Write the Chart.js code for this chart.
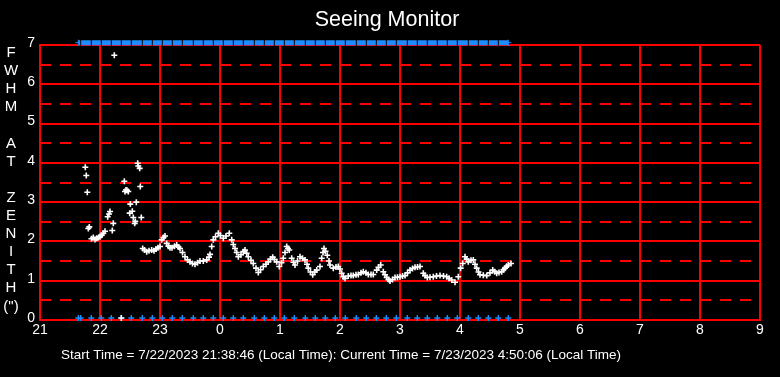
<!DOCTYPE html>
<html><head><meta charset="utf-8">
<script src="https://cdn.jsdelivr.net/npm/chart.js@4/dist/chart.umd.min.js"></script>
<style>html,body{margin:0;padding:0;background:#000;overflow:hidden}canvas{display:block}</style>
</head><body>
<canvas id="c" width="780" height="377"></canvas>
<script>
// ---- chart text ----
const chartTitle = 'Seeing Monitor';
const yAxisLetters = ['F','W','H','M','','A','T','','Z','E','N','I','T','H','(")'];
const footerText = 'Start Time = 7/22/2023 21:38:46 (Local Time): Current Time = 7/23/2023 4:50:06 (Local Time)';
// x axis: minutes after 21:00 local time, one tick per hour
const hourTicks = ['21','22','23','0','1','2','3','4','5','6','7','8','9'];
const halfGridLevels = [0.5,1.5,2.5,3.5,4.5,5.5,6.5];

// ---- FWHM samples (minutes after 21:00, arcsec) ----
const fwhmMinutes = [
 45.3,46.3,47.3,48.3,49.3,51.5,53.3,55.0,56.7,58.5,60.0,61.7,63.3,65.0,67.7,69.0,70.0,72.3,73.3,74.3,
 81.3,84.3,85.0,86.0,87.0,88.3,89.7,90.3,92.3,93.3,94.7,95.3,96.3,97.7,98.3,99.7,100.3,101.3,
 102.7,104.5,106.7,109,111.7,114,116,118,120,121.7,123.5,125,126.7,128.5,130,132,134.5,136.7,138.5,140,
 142.5,145,147.5,150,152.5,155,157.5,160,163.3,166.7,169,170,171.7,173.3,175.5,178.3,180.5,183.3,186,189.3,
 191.7,193.3,195,196.7,198.3,201,203.3,205,206.7,208.3,211,213.3,216,218.3,220.5,223.3,226,228.3,230.5,232.7,
 234.5,236.7,239.3,241.5,243.3,245,246.7,248,249.3,251.7,253.5,255,257.5,260,262.5,265,267,268.3,270.5,272.7,
 274.7,276.7,280,281.7,283,284,285.5,287.3,289,290,293.3,296,298.3,300,301.7,303.3,305,308.3,311,313.3,
 316,318.3,321,323.3,326,328.3,331,333.3,336.7,338.5,340.7,343.3,345,346.7,348.5,350,352.5,355,357.5,360,
 362.5,365,367.5,370,372.5,375,377.5,380,383.3,385,387.3,390,393.3,396.5,400,403.5,406.7,409,411.7,415,
 418.3,420.7,422.7,425,426.7,428.3,431,433.3,435,436.7,438.5,440,443.3,446.7,450,452.7,454.7,456.7,459,461.7,
 463.5,465,466.7,468.3,471
];
const fwhmValues = [
 3.89,3.68,3.25,2.33,2.37,2.07,2.10,2.05,2.08,2.10,2.12,2.16,2.21,2.26,2.63,2.70,2.76,2.28,2.46,6.74,
 0.05,3.53,3.27,3.31,3.30,3.27,2.72,2.95,2.77,2.61,2.46,2.51,3.00,3.99,3.92,3.86,3.40,2.61,
 1.82,1.78,1.74,1.76,1.78,1.76,1.81,1.84,1.87,2.04,2.10,2.14,1.95,1.88,1.84,1.84,1.88,1.91,1.86,1.82,
 1.72,1.61,1.53,1.48,1.44,1.42,1.46,1.50,1.50,1.53,1.60,1.67,1.87,2.04,2.12,2.21,2.15,2.08,2.14,2.21,
 2.04,1.92,1.82,1.72,1.61,1.66,1.74,1.78,1.70,1.61,1.52,1.44,1.32,1.21,1.28,1.36,1.42,1.48,1.55,1.60,
 1.54,1.48,1.36,1.46,1.57,1.72,1.87,1.82,1.78,1.57,1.47,1.40,1.50,1.61,1.57,1.53,1.42,1.32,1.22,1.15,
 1.22,1.27,1.36,1.57,1.72,1.82,1.75,1.65,1.50,1.40,1.32,1.35,1.36,1.30,1.19,1.10,1.06,1.12,1.13,1.13,
 1.15,1.16,1.20,1.23,1.20,1.16,1.16,1.16,1.27,1.34,1.40,1.23,1.15,1.08,1.03,0.99,1.03,1.08,1.09,1.10,
 1.12,1.13,1.20,1.27,1.31,1.34,1.35,1.36,1.19,1.13,1.08,1.09,1.10,1.12,1.13,1.12,1.10,1.06,1.02,0.96,
 1.10,1.32,1.44,1.61,1.55,1.48,1.52,1.53,1.42,1.32,1.22,1.15,1.14,1.13,1.20,1.27,1.23,1.19,1.21,1.23,
 1.28,1.32,1.37,1.40,1.44
];

// ---- blue status marks (minutes after 21:00) ----
const markMinutes = [
 38.3,40.7,51.3,61.3,71.3,81.3,91.3,102.3,112.3,122.3,132.3,142.3,153.3,163.3,173.3,183.3,193.3,203.3,
 214.3,224.3,234.3,244.3,254.3,265.3,275.3,285.3,295.3,305.3,316.3,326.3,336.3,346.3,356.3,367.3,377.3,
 387.3,397.3,407.3,417.3,428.3,438.3,448.3,458.3,468.3
];
const lowMarkValue = 0.05;
const highMarkValue = 7.06;

const FONT = '"Liberation Sans", Arial, Helvetica, sans-serif';
const RED = '#ff0000';
const BLUE = '#1e8cff';

const bgPlugin = {
  id: 'bg',
  beforeDraw(c) { const x = c.ctx; x.save(); x.fillStyle = '#000'; x.fillRect(0, 0, c.width, c.height); x.restore(); }
};
const textPlugin = {
  id: 'texts',
  afterDraw(c) {
    const x = c.ctx; x.save();
    x.fillStyle = '#fff';
    x.textAlign = 'center'; x.textBaseline = 'middle';
    x.font = '21.5px ' + FONT;
    x.fillText(chartTitle, 387, 20);
    x.font = '15px ' + FONT;
    yAxisLetters.forEach((ch, i) => { if (ch) x.fillText(ch, 11, 53 + i * 18.1); });
    x.font = '13.5px ' + FONT;
    x.fillText(footerText, 341, 355);
    x.restore();
  }
};

const endIdx = markMinutes.length - 1;
new Chart(document.getElementById('c'), {
  type: 'scatter',
  data: {
    datasets: [
      { label: 'FWHM', data: fwhmMinutes.map((m, i) => ({ x: m, y: fwhmValues[i] })),
        pointStyle: 'cross', pointRadius: 3, pointBorderWidth: 1.6, borderColor: '#fff', backgroundColor: '#fff', clip: false },
      { label: 'low', data: markMinutes.map(m => ({ x: m, y: lowMarkValue })),
        pointStyle: 'cross', pointRadius: 3, pointBorderWidth: 1.4, borderColor: BLUE, backgroundColor: BLUE, clip: false },
      { label: 'high', type: 'line', data: markMinutes.map(m => ({ x: m, y: highMarkValue })),
        showLine: true, borderColor: BLUE, borderWidth: 5, tension: 0, clip: false,
        pointStyle: ctx => (ctx.dataIndex === 0 || ctx.dataIndex === endIdx) ? 'cross' : 'line',
        pointRotation: 90, pointRadius: 3, pointBorderWidth: 1,
        pointBorderColor: ctx => (ctx.dataIndex === 0 || ctx.dataIndex === endIdx) ? BLUE : '#000',
        pointBackgroundColor: BLUE }
    ]
  },
  options: {
    animation: false, responsive: false, events: [], devicePixelRatio: 1,
    layout: { padding: { left: 0, right: 20, top: 45, bottom: 0 } },
    plugins: { legend: { display: false }, tooltip: { enabled: false }, title: { display: false } },
    scales: {
      x: {
        type: 'linear', min: 0, max: 720, position: 'bottom',
        ticks: { stepSize: 60, color: '#fff', font: { family: FONT, size: 14 }, padding: 2, maxRotation: 0, autoSkip: false,
          callback: (v, i) => hourTicks[i] },
        grid: { color: RED, lineWidth: 2, drawTicks: false },
        border: { color: RED, width: 2 },
        afterFit: s => { s.height = 57; }
      },
      y: {
        min: 0, max: 7, position: 'left',
        ticks: { stepSize: 1, color: '#fff', font: { family: FONT, size: 14 }, padding: 5, labelOffset: -2 },
        grid: { color: RED, lineWidth: 2, drawTicks: false },
        border: { color: RED, width: 2 },
        afterFit: s => { s.width = 40; }
      },
      yHalf: {
        min: 0, max: 7, position: 'right',
        afterBuildTicks: s => { s.ticks = halfGridLevels.map(v => ({ value: v })); },
        ticks: { display: false },
        grid: { color: RED, lineWidth: 2, drawTicks: false },
        border: { display: false, dash: [11, 9] },
        afterFit: s => { s.width = 0; }
      }
    }
  },
  plugins: [bgPlugin, textPlugin]
});
</script>
</body></html>
